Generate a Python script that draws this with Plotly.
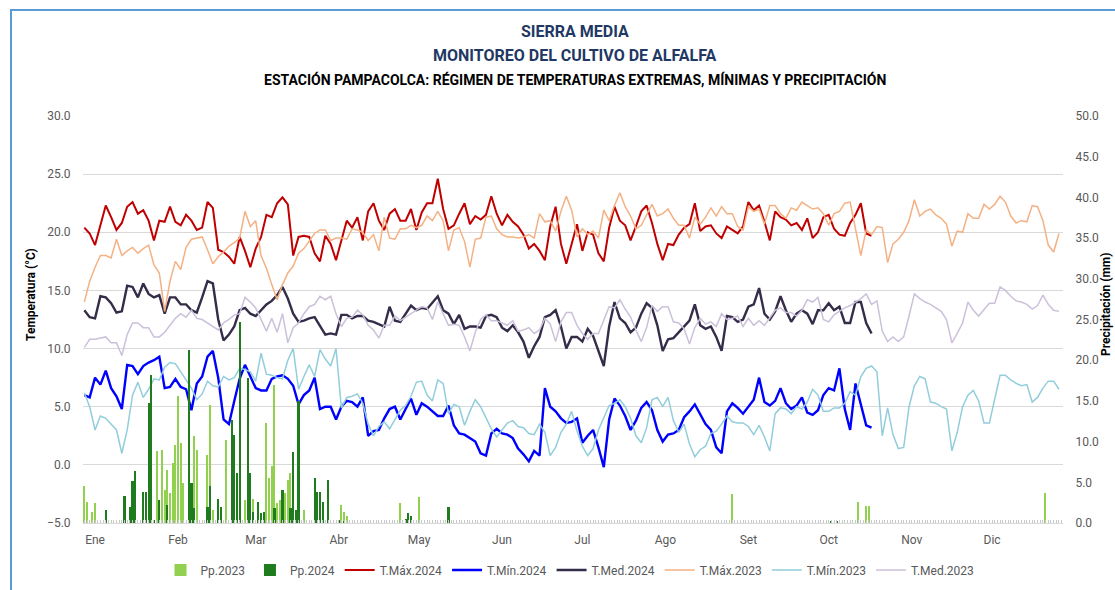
import pandas as pd
import plotly.graph_objects as go

# ---------------- data ----------------
months = ["Ene", "Feb", "Mar", "Abr", "May", "Jun", "Jul", "Ago", "Set", "Oct", "Nov", "Dic"]
start_date = "2024-01-01"
step_days = 2  # temperature series sampled every 2 days

tmax_2024 = [20.4, 19.9, 18.9, 20.6, 22.3, 21.3, 20.2, 20.8, 22.2, 22.6,
             21.6, 21.9, 21.0, 19.3, 21.0, 20.9, 22.2, 20.9, 20.6, 21.5,
             21.0, 20.2, 20.4, 22.6, 22.1, 18.5, 18.3, 17.9, 17.3, 19.6,
             18.4, 17.0, 18.6, 19.6, 21.5, 21.3, 22.5, 23.0, 22.4, 18.0,
             19.6, 19.7, 19.6, 18.2, 17.5, 19.7, 19.0, 17.6, 19.3, 21.0,
             20.4, 21.3, 19.3, 21.8, 22.5, 21.0, 20.2, 21.6, 22.0, 21.0,
             21.0, 22.0, 20.2, 21.7, 22.5, 22.5, 24.6, 22.0, 20.3, 20.6,
             21.6, 22.5, 20.7, 21.4, 21.1, 21.5, 23.1, 21.6, 20.6, 21.5,
             20.9, 20.5, 19.8, 18.6, 19.0, 18.4, 17.6, 20.5, 22.2, 19.0,
             17.3, 19.0, 20.7, 18.4, 20.0, 19.8, 18.2, 17.5, 20.4, 22.2,
             21.0, 20.6, 19.3, 20.5, 21.8, 22.3, 20.8, 19.0, 17.6, 19.0,
             18.9, 19.8, 20.4, 20.7, 22.5, 20.1, 20.5, 20.6, 19.9, 19.5,
             20.5, 20.2, 19.9, 20.5, 22.6, 21.9, 22.3, 20.9, 19.3, 21.8,
             21.3, 21.1, 20.6, 20.8, 20.2, 21.2, 19.5, 20.0, 21.3, 21.5,
             20.3, 19.8, 19.7, 20.8, 21.5, 22.5, 19.9, 19.7]

tmin_2024 = [6.0, 5.8, 7.5, 6.9, 8.1, 6.6, 5.9, 4.8, 8.6, 8.5,
             7.8, 8.5, 8.8, 9.0, 9.3, 6.6, 6.7, 7.4, 6.7, 6.5,
             4.7, 7.0, 7.6, 9.3, 9.8, 7.5, 3.9, 3.5, 5.5, 7.4,
             8.6, 7.6, 6.6, 6.4, 6.4, 7.4, 7.6, 7.7, 7.4, 6.8,
             5.2, 6.0, 6.4, 7.5, 4.8, 5.0, 5.0, 3.9, 5.0, 5.5,
             5.4, 5.0, 5.8, 2.5, 2.9, 3.0, 4.0, 4.8, 5.0, 3.9,
             4.8, 5.7, 4.3, 5.3, 5.0, 4.6, 4.2, 4.2, 5.1, 3.4,
             2.7, 2.6, 2.3, 2.0, 1.0, 0.8, 2.7, 3.1, 2.7, 2.6,
             2.3, 1.4, 0.9, 0.3, 1.2, 0.8, 6.6, 5.0, 4.6, 4.0,
             3.6, 3.7, 4.0, 1.9, 2.5, 3.0, 1.5, -0.2, 3.9, 5.7,
             5.1, 4.2, 3.0, 3.8, 4.9, 5.4, 4.7, 3.0, 2.0, 2.6,
             2.7, 3.0, 4.1, 4.6, 5.2, 4.4, 3.5, 3.0, 1.5, 1.0,
             4.6, 5.3, 4.9, 4.4, 5.0, 5.6, 7.5, 5.4, 5.1, 5.5,
             6.6, 5.3, 4.8, 5.1, 5.8, 4.5, 4.3, 4.7, 6.0, 6.6,
             6.4, 8.3, 4.8, 3.0, 7.0, 5.2, 3.4, 3.2]

tmed_2024 = [13.3, 12.7, 12.6, 14.5, 14.4, 13.9, 13.1, 13.2, 15.4, 15.3,
             14.4, 15.6, 14.7, 14.4, 14.6, 13.0, 14.4, 14.4, 13.8, 13.8,
             13.3, 13.1, 14.4, 15.8, 15.6, 12.5, 10.7, 11.2, 11.9, 13.3,
             13.5, 13.0, 12.8, 13.3, 13.8, 14.1, 14.6, 15.3, 14.3, 13.0,
             12.3, 12.4, 12.6, 12.7, 11.9, 11.2, 11.3, 11.2, 12.9, 12.9,
             12.6, 12.8, 12.8, 12.4, 12.3, 12.1, 11.9, 13.6, 12.4, 12.3,
             13.0, 13.7, 13.3, 13.5, 13.4, 14.0, 14.5, 13.3, 13.0, 12.1,
             12.9, 11.7, 11.9, 11.9, 11.8, 12.8, 12.9, 12.7, 11.8, 11.5,
             12.0, 11.4, 10.6, 9.2, 10.2, 11.0, 12.7, 12.9, 13.3, 11.9,
             10.0, 11.0, 11.0, 10.6, 11.7, 11.1, 9.8, 8.5, 11.9, 14.0,
             12.6, 12.2, 11.4, 11.8, 13.0, 13.9, 13.5, 12.0, 9.8, 10.8,
             10.9, 11.4, 11.9, 12.4, 13.8, 12.0, 11.7, 11.9, 11.0, 9.8,
             12.8, 12.7, 12.3, 12.5, 13.6, 13.8, 15.2, 13.0, 12.5, 13.2,
             14.5, 13.3, 12.3, 13.0, 13.3, 13.0, 12.1, 13.3, 13.3, 13.9,
             13.3, 13.6, 12.2, 12.2, 14.0, 14.0, 12.2, 11.3]

tmax_2023 = [14.0, 15.8, 17.0, 18.0, 18.0, 17.8, 19.4, 18.0, 18.4, 18.7,
             18.2, 18.6, 18.9, 17.2, 16.5, 13.2, 15.8, 17.5, 16.8, 18.7,
             19.4, 19.5, 19.6, 18.5, 17.3, 17.9, 18.3, 18.8, 19.1, 19.5,
             21.8, 20.5, 21.0, 18.0, 16.9, 15.5, 14.2, 15.5, 16.5, 17.1,
             18.2, 18.6, 19.3, 19.9, 20.2, 20.2, 19.3, 19.5, 19.5, 19.4,
             20.3, 20.2, 20.0, 19.3, 19.8, 18.4, 21.3, 19.5, 19.4, 20.3,
             20.3, 20.6, 20.4, 20.6, 21.4, 21.0, 21.8, 21.0, 18.4, 20.2,
             20.4, 19.2, 17.0, 19.4, 19.5, 21.3, 21.4, 20.3, 19.8, 19.6,
             19.6, 19.5, 19.6, 19.8, 19.5, 21.6, 20.9, 21.0, 20.1, 21.8,
             23.1, 21.9, 19.6, 20.3, 19.8, 20.1, 19.5, 21.9, 21.0, 22.3,
             23.4, 22.2, 21.4, 20.3, 20.6, 21.5, 22.4, 21.4, 21.6, 22.0,
             21.2, 20.6, 20.6, 19.5, 21.3, 20.7, 21.3, 22.1, 21.4, 22.2,
             21.6, 21.6, 20.5, 20.2, 22.2, 21.8, 22.0, 20.7, 22.3, 22.3,
             21.6, 21.2, 22.1, 21.9, 22.6, 22.3, 22.0, 22.1, 21.6, 20.6,
             21.6, 21.8, 22.5, 22.6, 20.2, 18.0, 20.2, 19.8, 20.5, 20.4,
             17.4, 19.0, 19.4, 20.0, 21.0, 22.8, 21.4, 21.8, 22.0, 21.5,
             21.2, 20.7, 18.8, 20.1, 20.0, 21.6, 21.2, 21.2, 22.4, 22.0,
             22.4, 23.1, 22.6, 21.4, 20.8, 21.0, 20.9, 22.3, 22.2, 21.0,
             18.9, 18.3, 19.9]

tmin_2023 = [6.2, 5.0, 3.0, 4.2, 4.0, 3.5, 3.0, 1.0, 3.0, 6.0,
             7.1, 5.8, 6.5, 7.4, 7.3, 8.4, 8.8, 8.7, 8.0, 7.3,
             6.6, 5.6, 6.1, 7.2, 6.8, 6.7, 7.6, 7.3, 7.5, 8.3,
             8.2, 8.0, 7.2, 9.6, 7.8, 7.7, 7.5, 7.4, 9.0, 10.0,
             6.5, 7.6, 8.6, 7.6, 9.9, 9.1, 8.5, 10.0, 4.9, 5.8,
             5.9, 6.1, 5.3, 3.5, 2.5, 3.3, 3.7, 3.1, 3.9, 4.7,
             5.1, 5.9, 7.1, 7.2, 6.0, 5.5, 7.3, 7.0, 4.4, 5.2,
             5.0, 3.4, 4.6, 5.6, 5.0, 4.0, 3.1, 2.4, 3.0, 3.6,
             3.8, 3.3, 3.2, 2.7, 2.6, 3.5, 2.8, 0.8, 1.5, 2.8,
             3.5, 4.6, 2.9, 1.6, 0.8, 1.4, 3.0, 4.1, 5.1, 5.3,
             5.6, 5.0, 4.0, 2.5, 1.9, 3.2, 5.6, 5.8, 5.0, 5.8,
             3.8, 2.8, 3.5, 1.8, 0.7, 1.3, 1.6, 2.7, 2.9, 3.5,
             4.2, 3.7, 3.6, 3.6, 3.3, 2.6, 3.4, 2.4, 1.2, 4.4,
             4.9, 4.8, 4.4, 5.0, 4.8, 5.4, 6.5, 6.0, 4.6, 4.6,
             4.9, 4.9, 5.3, 6.3, 6.0, 7.6, 8.3, 8.5, 8.0, 2.5,
             4.9, 2.6, 1.4, 1.5, 5.0, 6.8, 7.6, 7.4, 5.4, 5.3,
             5.0, 4.8, 1.2, 2.8, 5.0, 6.0, 6.4, 5.5, 3.6, 3.6,
             5.6, 7.7, 7.7, 7.3, 7.0, 6.8, 6.9, 5.4, 5.8, 6.6,
             7.2, 7.2, 6.5]

tmed_2023 = [10.1, 10.8, 10.8, 10.9, 11.0, 10.5, 10.5, 9.4, 11.2, 12.2,
             12.2, 11.8, 11.8, 11.0, 11.0, 11.4, 12.0, 12.6, 13.0, 12.7,
             13.3, 12.6, 12.5, 12.2, 11.9, 11.6, 12.2, 12.5, 12.9, 13.0,
             14.4, 14.0, 13.5, 12.5, 11.5, 12.6, 11.4, 13.0, 10.5, 11.8,
             12.2, 13.0, 13.6, 13.8, 14.5, 14.2, 14.5, 13.0, 11.9, 12.6,
             12.7, 13.3, 12.9, 12.0, 11.6, 10.9, 12.0, 12.0, 12.8, 12.4,
             12.7, 13.0, 13.3, 13.6, 13.5, 12.5, 14.0, 13.0, 12.0, 12.1,
             12.0, 11.0, 9.8, 11.4, 12.5, 12.9, 12.4, 12.4, 12.2, 12.0,
             12.4, 11.5, 11.6, 11.8, 11.3, 11.6, 12.6, 12.1, 10.6, 12.3,
             13.1, 13.1, 12.0, 11.3, 10.8, 11.3, 11.3, 12.5, 13.6, 13.5,
             14.2, 13.4, 12.7, 11.6, 10.6, 11.8, 13.7, 13.2, 13.6, 13.6,
             12.3, 12.2, 11.7, 10.4, 11.8, 12.6, 12.1, 12.3, 11.9, 13.0,
             12.5, 12.6, 12.8, 11.9, 12.6, 12.0, 12.4, 12.0, 12.6, 13.3,
             13.5, 13.1, 13.1, 12.8, 13.3, 14.2, 14.0, 14.4, 12.5, 12.3,
             12.9, 13.2, 13.5, 13.7, 14.0, 14.3, 14.7, 13.8, 14.1, 11.5,
             10.6, 11.0, 10.6, 11.0, 12.8, 14.7, 14.3, 14.0, 13.8, 13.5,
             13.2, 12.5, 10.5, 11.3, 12.2, 14.0, 13.3, 12.8, 13.4, 13.9,
             13.9, 15.3, 15.0, 14.5, 14.1, 14.0, 13.8, 13.4, 13.7, 14.6,
             13.8, 13.3, 13.2]

pp_2023_days = [0, 1, 3, 4, 25, 27, 29, 30, 31, 32, 33, 34, 35, 36, 37, 41, 42, 46, 47, 48,
                50, 53, 55, 60, 63, 68, 69, 70, 71, 72, 73, 75, 76, 77, 80, 82, 86, 96, 97, 98,
                118, 125, 242, 289, 292, 293, 359]
pp_2023_mm = [4.6, 2.6, 1.4, 2.4, 8.0, 8.8, 9.0, 4.0, 6.5, 3.7, 7.4, 9.6, 15.6, 9.8, 4.9, 10.7, 9.0, 8.3, 14.5, 1.6,
              2.4, 10.2, 4.0, 2.8, 3.0, 12.3, 5.5, 7.0, 17.0, 2.4, 2.8, 3.7, 5.3, 6.1, 7.2, 1.6, 3.2, 2.2, 1.4, 0.8,
              2.5, 3.2, 3.6, 2.6, 2.1, 2.1, 3.7]

pp_2024_days = [8, 15, 17, 18, 19, 22, 23, 24, 25, 26, 28, 31, 39, 40, 41, 46, 47, 50, 51, 55,
                56, 57, 58, 61, 62, 63, 65, 66, 67, 71, 74, 77, 78, 79, 80, 86, 87, 88, 89, 91,
                95, 97, 120, 121, 122, 136, 279, 281]
pp_2024_mm = [1.6, 3.3, 2.0, 5.1, 6.4, 3.8, 3.8, 14.7, 18.2, 0.4, 2.8, 2.2, 21.3, 4.9, 1.8, 2.0, 4.5, 3.0, 2.0, 12.7,
              10.8, 6.1, 24.7, 17.8, 6.1, 1.4, 2.6, 1.2, 1.4, 1.8, 4.1, 1.8, 8.7, 1.6, 15.0, 5.5, 3.8, 3.8, 2.6, 5.3,
              0.4, 0.3, 0.5, 1.2, 0.8, 2.0, 0.3, 0.3]

# ---------------- helpers ----------------
t0 = pd.Timestamp(start_date)


def sampled_dates(values):
    return [t0 + pd.Timedelta(days=step_days * i) for i in range(len(values))]


def day_dates(days):
    return [t0 + pd.Timedelta(days=d) for d in days]


FONT = "Roboto, Liberation Sans, sans-serif"
GRAY = "#595959"

fig = go.Figure()

# precipitation bars (secondary axis)
fig.add_trace(go.Bar(x=day_dates(pp_2023_days), y=pp_2023_mm, name="Pp.2023",
                     marker=dict(color="#92D050", line=dict(width=0)),
                     width=0.45 * 86400000, yaxis="y2"))
fig.add_trace(go.Bar(x=day_dates(pp_2024_days), y=pp_2024_mm, name="Pp.2024",
                     marker=dict(color="#1E7B1E", line=dict(width=0)),
                     width=0.8 * 86400000, yaxis="y2"))

series = [
    ("T.Máx.2024", tmax_2024, "#C00000", 2.0),
    ("T.Mín.2024", tmin_2024, "#0000FF", 2.4),
    ("T.Med.2024", tmed_2024, "#342C48", 2.4),
    ("T.Máx.2023", tmax_2023, "#F4B183", 1.5),
    ("T.Mín.2023", tmin_2023, "#92CDDC", 1.5),
    ("T.Med.2023", tmed_2023, "#CCC0DA", 1.5),
]
for name, vals, color, w in series:
    fig.add_trace(go.Scatter(x=sampled_dates(vals), y=vals, name=name, mode="lines",
                             line=dict(color=color, width=w)))

# pixel geometry helpers for annotations
L, R, T, B = 83, 1063, 116, 523


def px(x):
    return (x - L) / (R - L)


def py(y):
    return (B - y) / (B - T)


annotations = [
    dict(text="<b>SIERRA MEDIA</b>", x=px(575), y=py(31),
         font=dict(size=16, color="#1F3864", family=FONT)),
    dict(text="<b>MONITOREO DEL CULTIVO DE ALFALFA</b>", x=px(575), y=py(55),
         font=dict(size=16, color="#1F3864", family=FONT)),
    dict(text="<b>ESTACIÓN PAMPACOLCA: RÉGIMEN DE TEMPERATURAS EXTREMAS, MÍNIMAS Y PRECIPITACIÓN</b>",
         x=px(575), y=py(79), font=dict(size=14, color="#000000", family=FONT)),
    dict(text="<b>Temperatura (°C)</b>", x=px(31), y=py(295), textangle=-90,
         font=dict(size=12, color="#000000", family=FONT)),
    dict(text="<b>Precipitación (mm)</b>", x=px(1106), y=py(305), textangle=-90,
         font=dict(size=12, color="#000000", family=FONT)),
]
for a in annotations:
    a.update(xref="paper", yref="paper", showarrow=False, xanchor="center", yanchor="middle")

month_ticks = [pd.Timestamp(2024, m, 5, 0) for m in range(1, 13)]

fig.update_layout(
    width=1115, height=590, autosize=False,
    margin=dict(l=L, r=1115 - R, t=T, b=590 - B, pad=0, autoexpand=False),
    paper_bgcolor="white", plot_bgcolor="white",
    font=dict(family=FONT, size=12, color=GRAY),
    barmode="overlay", bargap=0,
    showlegend=True,
    legend=dict(orientation="h", x=px(570), xanchor="center", y=py(570), yanchor="middle",
                font=dict(size=12, color=GRAY, family=FONT), itemwidth=30,
                bgcolor="rgba(0,0,0,0)", traceorder="normal"),
    annotations=annotations,
    shapes=[dict(type="rect", xref="paper", yref="paper", x0=px(11), x1=1.3, y0=-0.5, y1=py(10),
                 line=dict(color="#5B9BD5", width=2), fillcolor="rgba(0,0,0,0)", layer="below")],
    xaxis=dict(type="date",
               range=[t0 - pd.Timedelta(hours=12), t0 + pd.Timedelta(days=365, hours=12)],
               tickmode="array", tickvals=month_ticks, ticktext=months, ticks="",
               showgrid=False, zeroline=False, showline=True, linecolor="#D9D9D9", linewidth=1,
               tickfont=dict(size=12, color=GRAY, family=FONT), ticklabelstandoff=6,
               minor=dict(dtick=86400000, tick0=start_date, ticks="inside", ticklen=3,
                          tickcolor="#C8C8C8", tickwidth=1, showgrid=False)),
    yaxis=dict(range=[-5, 30], tick0=-5, dtick=5, tickformat=".1f", showgrid=True,
               gridcolor="#D9D9D9", gridwidth=1, zeroline=False, showline=False,
               ticks="outside", ticklen=9, tickcolor="rgba(0,0,0,0)",
               tickfont=dict(size=12, color=GRAY, family=FONT)),
    yaxis2=dict(range=[0, 50], tick0=0, dtick=5, tickformat=".1f", overlaying="y", side="right",
                showgrid=False, zeroline=False, showline=False,
                ticks="outside", ticklen=9, tickcolor="rgba(0,0,0,0)",
                tickfont=dict(size=12, color=GRAY, family=FONT)),
)

fig.write_html("out.html", config={"displayModeBar": False},
               post_script="document.body.style.margin='0px';")
